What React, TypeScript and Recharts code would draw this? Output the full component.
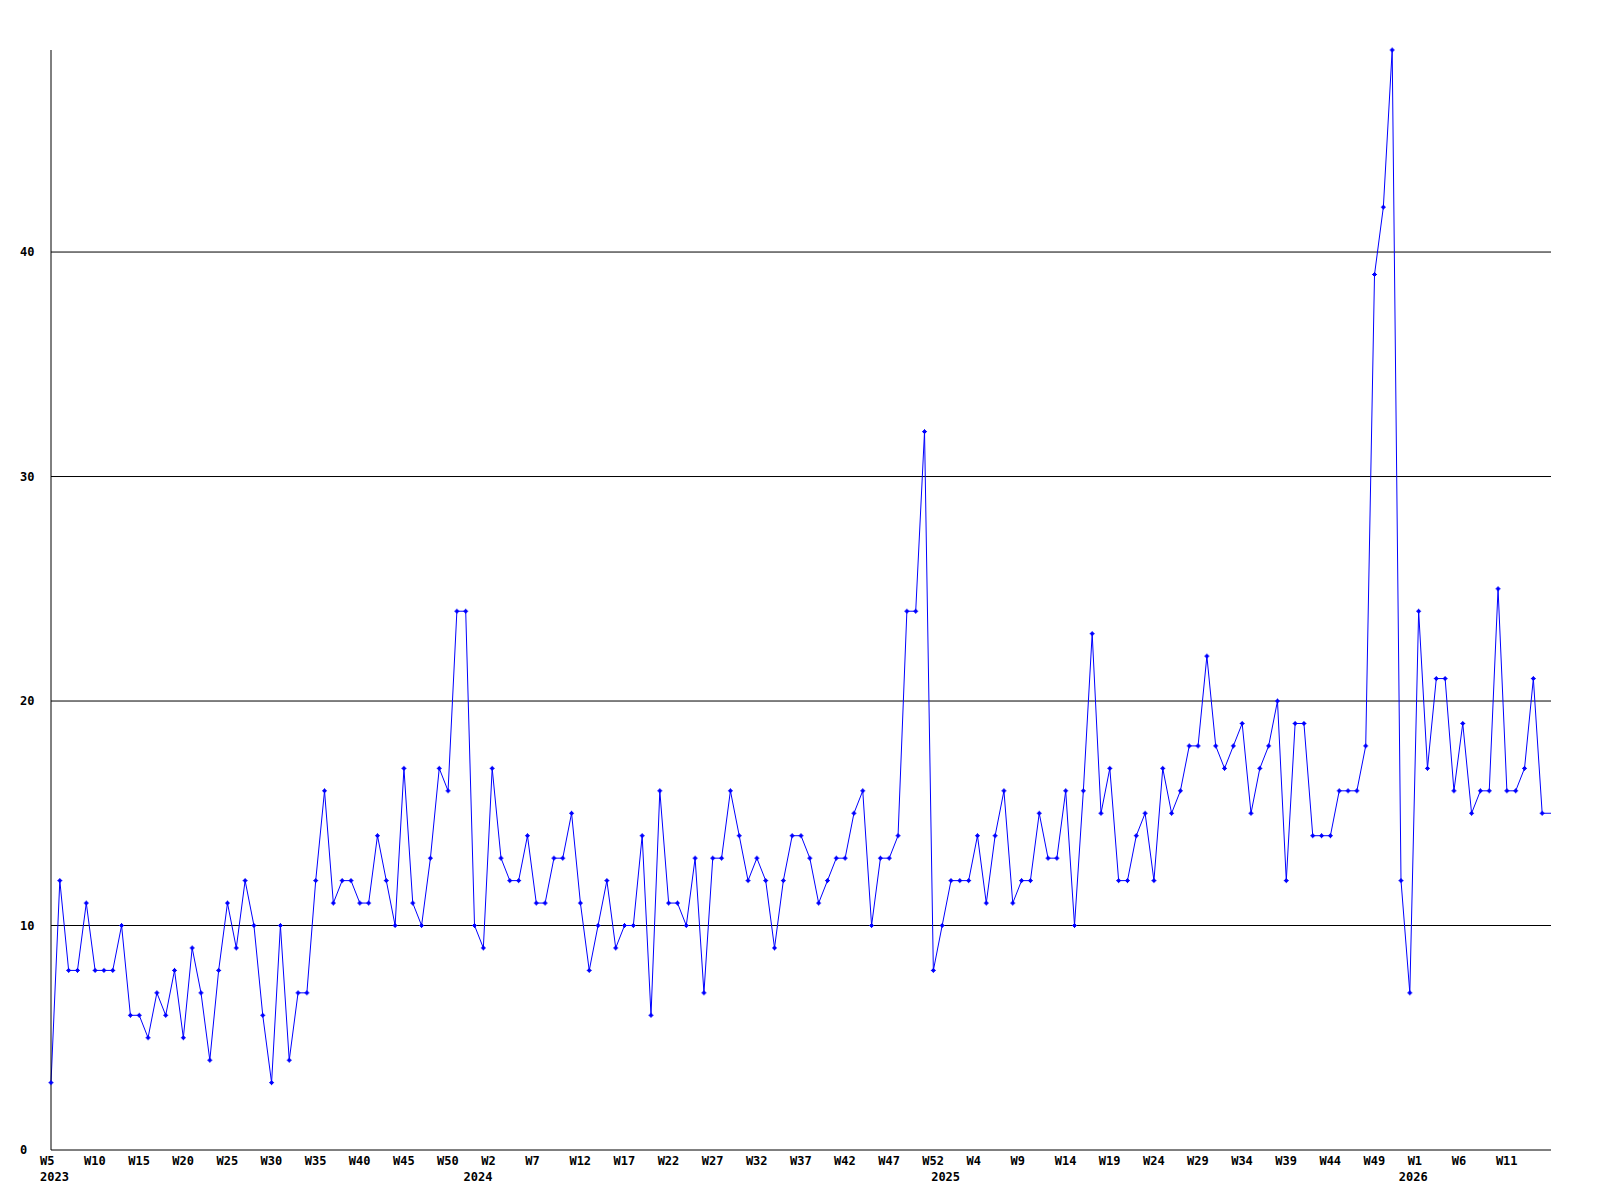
import React from 'react'
import { LineChart, Line, XAxis, YAxis, ReferenceLine } from 'recharts'

// weekly counts, 2023 W5 .. 2026 W16 (each year has a W0 slot for its first partial week)
const counts2023 = [
  3, 12, 8, 8, 11, 8, 8, 8, 10, 6, 6, 5, 7, 6, 8, 5, 9, 7, 4, 8, 11, 9, 12, 10, 6, 3, 10, 4, 7, 7,
  12, 16, 11, 12, 12, 11, 11, 14, 12, 10, 17, 11, 10, 13, 17, 16, 24, 24
]
const counts2024 = [
  10, 9, 17, 13, 12, 12, 14, 11, 11, 13, 13, 15, 11, 8, 10, 12, 9, 10, 10, 14, 6, 16, 11, 11, 10, 13,
  7, 13, 13, 16, 14, 12, 13, 12, 9, 12, 14, 14, 13, 11, 12, 13, 13, 15, 16, 10, 13, 13, 14, 24, 24,
  32, 8
]
const counts2025 = [
  10, 12, 12, 12, 14, 11, 14, 16, 11, 12, 12, 15, 13, 13, 16, 10, 16, 23, 15, 17, 12, 12, 14, 15, 12,
  17, 15, 16, 18, 18, 22, 18, 17, 18, 19, 15, 17, 18, 20, 12, 19, 19, 14, 14, 14, 16, 16, 16, 18, 39,
  42, 49, 12
]
const counts2026 = [7, 24, 17, 21, 21, 16, 19, 15, 16, 16, 25, 16, 16, 17, 21, 15, 15]

const years = [2023, 2024, 2025, 2026]
const firstWeeks = [5, 0, 0, 0]
const yearCounts = [counts2023, counts2024, counts2025, counts2026]
const yTicks = [0, 10, 20, 30, 40]
const gridLines = [10, 20, 30, 40]

const data: { i: number; week: string; year: number; yearStart: boolean; value: number }[] = []
years.forEach((year, k) => {
  yearCounts[k].forEach((value, j) => {
    data.push({
      i: data.length,
      week: `W${firstWeeks[k] + j}`,
      year,
      yearStart: j === 0,
      value
    })
  })
})

const lastIndex = data.length - 1
const weekTicks = data.filter(d => d.i % 5 === 0 && d.i < lastIndex).map(d => d.i)
const yearTicks = data.filter(d => d.yearStart).map(d => d.i)
const xTicks = Array.from(new Set([...weekTicks, ...yearTicks])).sort((a, b) => a - b)

const font = '"DejaVu Sans Mono", monospace'

const XTick = ({ x, payload }: any) => {
  const d = data[payload.value]
  if (!d) return null
  return (
    <g>
      {weekTicks.includes(d.i) && (
        <text x={x - 11} y={1165} fontFamily={font} fontSize={12} fontWeight="bold" fill="#000">
          {d.week}
        </text>
      )}
      {d.yearStart && (
        <text x={x - 11} y={1181} fontFamily={font} fontSize={12} fontWeight="bold" fill="#000">
          {d.year}
        </text>
      )}
    </g>
  )
}

const YTick = ({ y, payload }: any) => (
  <text x={20} y={y + 4} fontFamily={font} fontSize={12} fontWeight="bold" fill="#000">
    {payload.value}
  </text>
)

const Marker = ({ cx, cy, index }: any) => {
  if (index === lastIndex || cx == null) return <g key={index} />
  return (
    <g key={index} fill="#0000ff">
      <rect x={cx - 2.5} y={cy - 0.5} width={5} height={1} />
      <rect x={cx - 0.5} y={cy - 2.5} width={1} height={5} />
      <rect x={cx - 1.5} y={cy - 1.5} width={3} height={3} />
    </g>
  )
}

export default function App() {
  return (
    <div style={{ position: 'absolute', left: 0, top: 0, background: '#fff' }}>
      <LineChart width={1600} height={1200} data={data} margin={{ top: 50, right: 49, bottom: 0, left: 20 }}>
        <XAxis
          type="number"
          dataKey="i"
          domain={[0, lastIndex]}
          ticks={xTicks}
          interval={0}
          tick={<XTick />}
          tickLine={false}
          axisLine={{ stroke: '#000' }}
          height={50}
        />
        <YAxis
          domain={[0, 49]}
          ticks={yTicks}
          interval={0}
          tick={<YTick />}
          tickLine={false}
          axisLine={{ stroke: '#000' }}
          width={31}
        />
        {gridLines.map(v => (
          <ReferenceLine key={v} y={v} stroke="#000" strokeWidth={1} />
        ))}
        <Line
          type="linear"
          dataKey="value"
          stroke="#0000ff"
          strokeWidth={1}
          dot={<Marker />}
          activeDot={false}
          isAnimationActive={false}
        />
      </LineChart>
    </div>
  )
}
